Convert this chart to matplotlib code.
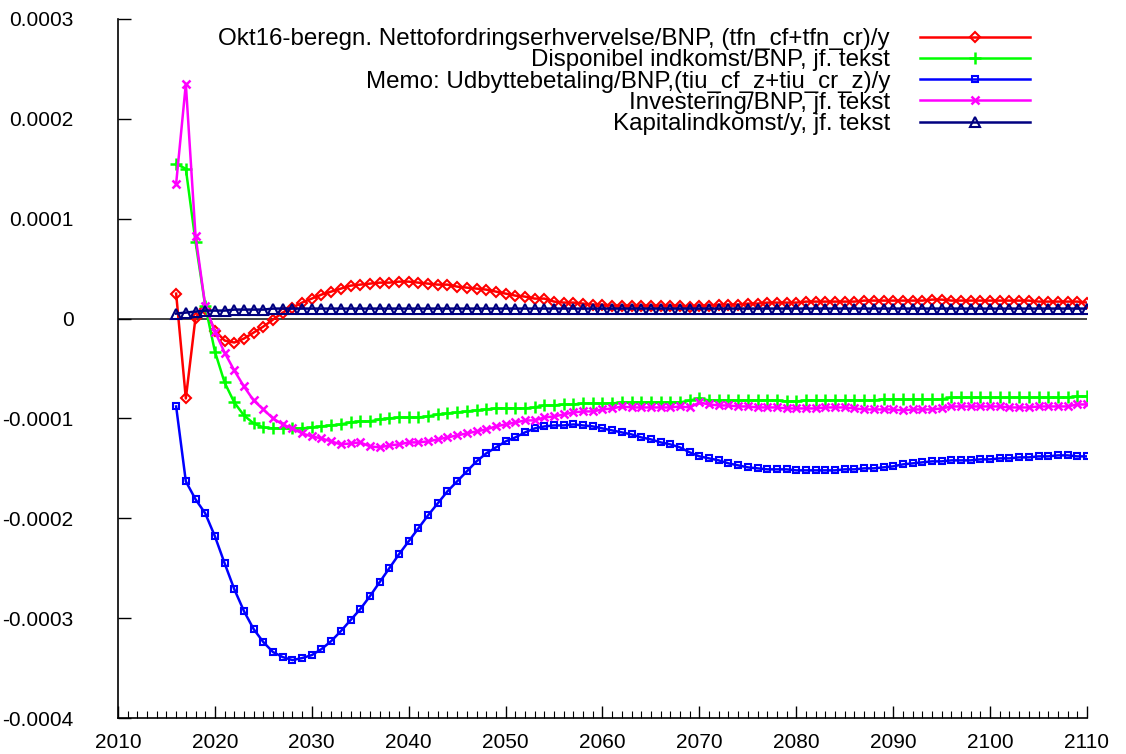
import numpy as np
import matplotlib
matplotlib.use("Agg")
import matplotlib.pyplot as plt
from matplotlib.ticker import MultipleLocator, FuncFormatter

plt.rcParams['font.family'] = ['Liberation Sans', 'DejaVu Sans']

years = list(range(2016, 2111))

# values in units of 1e-4
netto = [0.25, -0.80, 0.01, 0.10, -0.12, -0.22, -0.24, -0.20, -0.14, -0.08,
         -0.01, 0.06, 0.11, 0.16, 0.20, 0.24, 0.27, 0.30, 0.33, 0.34,
         0.35, 0.36, 0.36, 0.37, 0.37, 0.36, 0.35, 0.34, 0.34, 0.32,
         0.31, 0.30, 0.29, 0.27, 0.25, 0.23, 0.22, 0.20, 0.20, 0.17,
         0.16, 0.16, 0.15, 0.14, 0.14, 0.13, 0.13, 0.13, 0.13, 0.13,
         0.13, 0.13, 0.13, 0.12, 0.13, 0.13, 0.14, 0.14, 0.14, 0.15,
         0.15, 0.16, 0.16, 0.16, 0.16, 0.17, 0.17, 0.17, 0.17, 0.17,
         0.17, 0.18, 0.18, 0.18, 0.18, 0.18, 0.18, 0.18, 0.19, 0.19,
         0.18, 0.18, 0.18, 0.18, 0.18, 0.18, 0.18, 0.18, 0.18, 0.17,
         0.17, 0.17, 0.17, 0.17, 0.16]

disponibel = [1.55, 1.50, 0.77, 0.13, -0.33, -0.64, -0.84, -0.97, -1.05, -1.09,
              -1.10, -1.10, -1.10, -1.10, -1.09, -1.08, -1.07, -1.06, -1.04, -1.03,
              -1.03, -1.01, -1.00, -0.99, -0.99, -0.99, -0.98, -0.96, -0.95, -0.94,
              -0.93, -0.92, -0.91, -0.90, -0.90, -0.90, -0.90, -0.89, -0.87, -0.87,
              -0.86, -0.86, -0.85, -0.85, -0.85, -0.85, -0.84, -0.84, -0.84, -0.84,
              -0.84, -0.84, -0.84, -0.82, -0.80, -0.82, -0.82, -0.82, -0.82, -0.82,
              -0.82, -0.82, -0.82, -0.83, -0.83, -0.82, -0.82, -0.82, -0.82, -0.82,
              -0.82, -0.82, -0.82, -0.81, -0.81, -0.81, -0.81, -0.81, -0.81, -0.81,
              -0.79, -0.79, -0.79, -0.79, -0.79, -0.79, -0.79, -0.79, -0.79, -0.79,
              -0.79, -0.79, -0.79, -0.78, -0.78]

memo = [-0.88, -1.63, -1.81, -1.95, -2.18, -2.45, -2.71, -2.93, -3.11, -3.24,
        -3.34, -3.39, -3.42, -3.40, -3.37, -3.31, -3.23, -3.13, -3.02, -2.91,
        -2.78, -2.64, -2.50, -2.36, -2.23, -2.10, -1.97, -1.85, -1.73, -1.63,
        -1.53, -1.43, -1.35, -1.29, -1.23, -1.19, -1.14, -1.10, -1.08, -1.07,
        -1.07, -1.06, -1.07, -1.08, -1.10, -1.12, -1.14, -1.16, -1.19, -1.21,
        -1.24, -1.26, -1.29, -1.34, -1.38, -1.40, -1.42, -1.45, -1.47, -1.49,
        -1.50, -1.51, -1.51, -1.51, -1.52, -1.52, -1.52, -1.52, -1.52, -1.51,
        -1.51, -1.50, -1.50, -1.49, -1.48, -1.46, -1.45, -1.44, -1.43, -1.43,
        -1.42, -1.42, -1.42, -1.41, -1.41, -1.40, -1.40, -1.39, -1.39, -1.38,
        -1.38, -1.37, -1.37, -1.38, -1.38]

investering = [1.35, 2.35, 0.83, 0.13, -0.13, -0.34, -0.52, -0.68, -0.82, -0.91,
               -1.00, -1.06, -1.10, -1.15, -1.18, -1.20, -1.23, -1.26, -1.25, -1.24,
               -1.28, -1.29, -1.27, -1.26, -1.24, -1.24, -1.23, -1.21, -1.19, -1.17,
               -1.15, -1.13, -1.11, -1.08, -1.06, -1.04, -1.02, -1.02, -0.99, -0.98,
               -0.96, -0.94, -0.93, -0.93, -0.91, -0.90, -0.88, -0.89, -0.89, -0.89,
               -0.89, -0.89, -0.88, -0.89, -0.84, -0.86, -0.87, -0.87, -0.88, -0.88,
               -0.89, -0.89, -0.89, -0.90, -0.90, -0.90, -0.90, -0.89, -0.89, -0.89,
               -0.90, -0.91, -0.91, -0.91, -0.91, -0.92, -0.91, -0.91, -0.91, -0.90,
               -0.88, -0.88, -0.88, -0.88, -0.88, -0.88, -0.89, -0.89, -0.89, -0.88,
               -0.88, -0.88, -0.88, -0.86, -0.86]

kapital = [0.05, 0.06, 0.07, 0.08, 0.08, 0.08, 0.09, 0.09, 0.09, 0.09,
           0.10, 0.10, 0.10, 0.10, 0.10, 0.10, 0.10, 0.10, 0.10, 0.10,
           0.10, 0.10, 0.10, 0.10, 0.10, 0.10, 0.10, 0.10, 0.10, 0.10,
           0.10, 0.10, 0.10, 0.10, 0.10, 0.10, 0.10, 0.10, 0.10, 0.10,
           0.10, 0.10, 0.10, 0.10, 0.10, 0.10, 0.10, 0.10, 0.10, 0.10,
           0.10, 0.10, 0.10, 0.10, 0.10, 0.10, 0.10, 0.10, 0.10, 0.10,
           0.10, 0.10, 0.10, 0.10, 0.10, 0.10, 0.10, 0.10, 0.10, 0.10,
           0.10, 0.10, 0.10, 0.10, 0.10, 0.10, 0.10, 0.10, 0.10, 0.10,
           0.10, 0.10, 0.10, 0.10, 0.10, 0.10, 0.10, 0.10, 0.10, 0.10,
           0.10, 0.10, 0.10, 0.10, 0.10]

labels = [
    "Okt16-beregn. Nettofordringserhvervelse/BNP, (tfn_cf+tfn_cr)/y",
    "Disponibel indkomst/BNP, jf. tekst",
    "Memo: Udbyttebetaling/BNP,(tiu_cf_z+tiu_cr_z)/y",
    "Investering/BNP, jf. tekst",
    "Kapitalindkomst/y, jf. tekst",
]

scale = 1e-4
fig = plt.figure(figsize=(11.26, 7.54), dpi=100)
ax = fig.add_axes([118 / 1126, 1 - 718 / 754, (1087 - 118) / 1126, (718 - 19) / 754])

ax.axhline(0, color='#222222', lw=1.2, zorder=1)

styles = [
    (netto, '#ff0000', dict(marker='D', ms=5.5, mfc='none', mew=1.5)),
    (disponibel, '#00ff00', dict(marker='+', ms=9, mew=1.8)),
    (memo, '#0000ff', dict(marker='s', ms=5, mfc='none', mew=1.5)),
    (investering, '#ff00ff', dict(marker='x', ms=6, mew=1.8)),
    (kapital, '#000080', dict(marker='^', ms=6.5, mfc='none', mew=1.5)),
]
for (vals, col, kw), lab in zip(styles, labels):
    ax.plot(years, np.array(vals) * scale, color=col, lw=1.8, label=lab, zorder=3, **kw)

ax.set_xlim(2010, 2110)
ax.set_ylim(-0.0004, 0.0003)
ax.xaxis.set_major_locator(MultipleLocator(10))
ax.xaxis.set_minor_locator(MultipleLocator(1))
ax.yaxis.set_major_locator(MultipleLocator(0.0001))
ax.yaxis.set_major_formatter(FuncFormatter(lambda v, p: '%g' % round(v, 6)))

for s in ['top', 'right']:
    ax.spines[s].set_visible(False)
for s in ['left', 'bottom']:
    ax.spines[s].set_linewidth(1.2)

ax.tick_params(axis='both', which='major', direction='in', length=9, width=1.0)
ax.tick_params(axis='x', which='major', labelsize=15, pad=11)
ax.tick_params(axis='x', which='minor', direction='in', length=5, width=0.8)
ax.tick_params(axis='y', which='major', labelsize=15, pad=32)

leg = ax.legend(loc='upper right', bbox_to_anchor=(1030 / 1126, 1 - 28 / 754),
                bbox_transform=fig.transFigure, frameon=False, markerfirst=False,
                fontsize=17.4, handlelength=4.55, handletextpad=1.24,
                labelspacing=-0.03, borderpad=0, borderaxespad=0)

fig.savefig('out.png', dpi=100)
